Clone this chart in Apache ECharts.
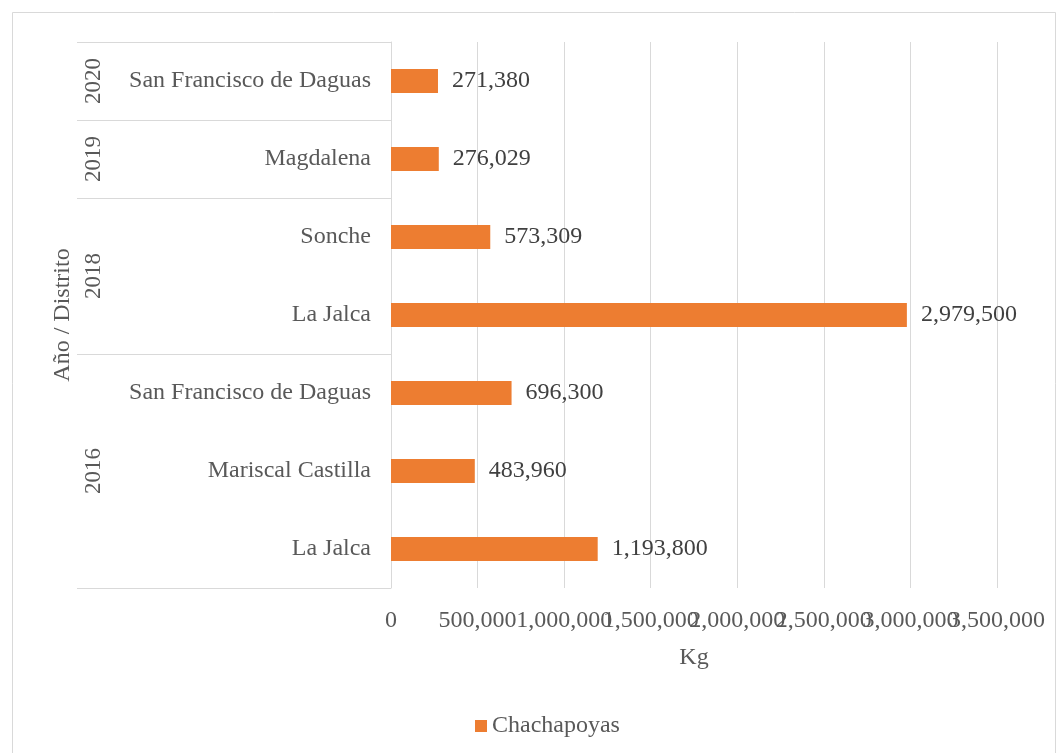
<!DOCTYPE html>
<html>
<head>
<meta charset="utf-8">
<script src="https://cdn.jsdelivr.net/npm/echarts@6/dist/echarts.min.js"></script>
<style>
html,body{margin:0;padding:0;background:#fff;}
#chart{width:1064px;height:753px;}
</style>
</head>
<body>
<div id="chart"></div>
<script>
// Data (bottom to top, as in the chart)
const districts = ['La Jalca', 'Mariscal Castilla', 'San Francisco de Daguas', 'La Jalca', 'Sonche', 'Magdalena', 'San Francisco de Daguas'];
const values = [1193800, 483960, 696300, 2979500, 573309, 276029, 271380];
const years = ['2016', '2018', '2019', '2020'];
const yearRows = [3, 2, 1, 1];
const seriesName = 'Chachapoyas';
const xMin = 0, xMax = 3500000, xStep = 500000;

// Derived group boundaries/centres in row units
const bounds = [0];
yearRows.forEach(n => bounds.push(bounds[bounds.length - 1] + n));
const centers = yearRows.map((n, i) => bounds[i] + n / 2);

const FONT = 'Liberation Serif';
const fmt = v => Math.round(v).toString().replace(/\B(?=(\d{3})+(?!\d))/g, ',');
const xLabelStyle = { fontFamily: FONT, fontSize: 24, color: '#595959', margin: 21, formatter: fmt };

const chart = echarts.init(document.getElementById('chart'));
chart.setOption({
  backgroundColor: '#fff',
  animation: false,
  graphic: [{
    type: 'rect', left: 10, top: 10, shape: { width: 1043, height: 760 },
    style: { fill: 'none', stroke: '#d9d9d9', lineWidth: 1 }, silent: true
  }],
  grid: { left: 391, right: 67, top: 42, bottom: 165 },
  legend: {
    data: [seriesName], left: 470, top: 709,
    icon: 'rect', itemWidth: 12, itemHeight: 12, itemGap: 6,
    textStyle: { fontFamily: FONT, fontSize: 24, color: '#595959' }
  },
  xAxis: [{
    type: 'value', min: xMin, max: xMax, interval: xStep, position: 'bottom',
    name: 'Kg', nameLocation: 'middle', nameGap: 58,
    nameTextStyle: { fontFamily: FONT, fontSize: 24, color: '#595959' },
    axisLine: { show: false }, axisTick: { show: false },
    axisLabel: Object.assign({ showMinLabel: true, showMaxLabel: false }, xLabelStyle),
    splitLine: { show: true, lineStyle: { color: '#d9d9d9', width: 1 } }
  }, {
    // carries only the last tick label, which the first axis would drop for overlapping
    type: 'value', min: xMin, max: xMax, interval: xStep, position: 'bottom', offset: 0,
    axisLine: { show: false }, axisTick: { show: false }, splitLine: { show: false },
    axisLabel: Object.assign({ customValues: [xMax] }, xLabelStyle)
  }],
  yAxis: [{
    type: 'category',
    data: districts.map((d, i) => String(i)),
    name: 'Año / Distrito', nameLocation: 'middle', nameGap: 316,
    nameTextStyle: { fontFamily: FONT, fontSize: 24, color: '#595959' },
    axisLine: { show: true, lineStyle: { color: '#d9d9d9', width: 1 } },
    axisTick: { show: false },
    axisLabel: { fontFamily: FONT, fontSize: 24, color: '#595959', margin: 20,
      formatter: (v, i) => districts[+v] },
    splitLine: { show: false }
  }, {
    type: 'value', min: 0, max: districts.length, position: 'left',
    axisLine: { show: false },
    splitLine: { show: false },
    axisTick: { show: true, inside: false, length: 314, customValues: bounds,
      lineStyle: { color: '#d9d9d9', width: 1 } },
    axisLabel: { show: true, customValues: centers, rotate: 90, margin: 286,
      fontFamily: FONT, fontSize: 23, color: '#595959',
      formatter: v => { const k = centers.indexOf(v); return k >= 0 ? years[k] : ''; } }
  }],
  series: [{
    name: seriesName, type: 'bar', xAxisIndex: 0, yAxisIndex: 0,
    data: values, barWidth: 24,
    itemStyle: { color: '#ED7D31' },
    label: { show: true, position: 'right', distance: 14, formatter: p => fmt(p.value),
      fontFamily: FONT, fontSize: 24, color: '#404040' }
  }]
});
</script>
</body>
</html>
